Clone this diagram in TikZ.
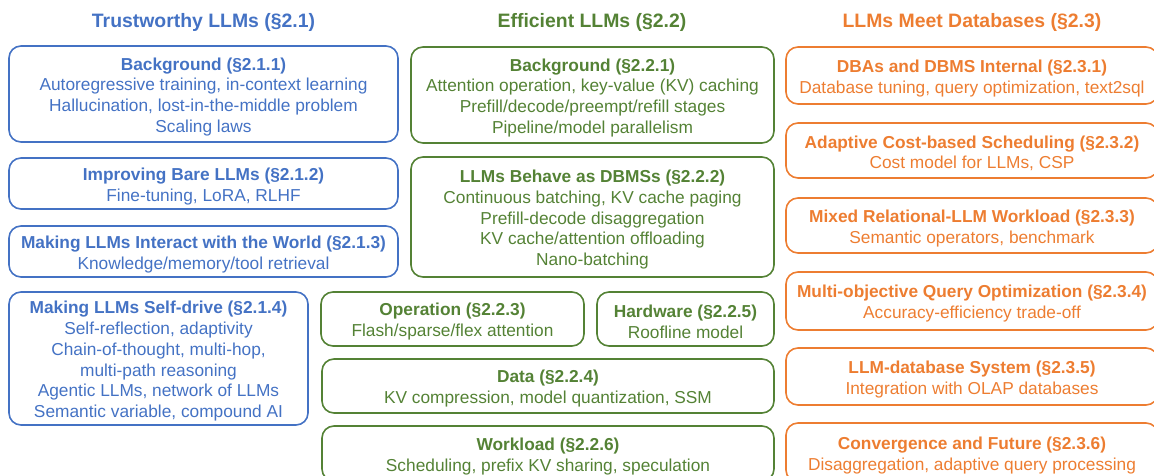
\documentclass[tikz,border=0pt]{standalone}
\usepackage{fontspec}
\setmainfont{Liberation Sans}
\definecolor{TrustClr}{HTML}{4472C4}
\definecolor{EffClr}{HTML}{548235}
\definecolor{DbClr}{HTML}{ED7D31}
\newcommand\boxtitle[1]{\rule{0pt}{18pt}\textbf{#1}}

\begin{document}
\begin{tikzpicture}[x=1pt,y=-1pt,
  box/.style={draw,line width=1.6pt,rounded corners=12pt,align=center,inner sep=0pt,
    font=\fontsize{17.3}{20.7}\selectfont},
  trust/.style={box,color=TrustClr},
  eff/.style={box,color=EffClr},
  db/.style={box,color=DbClr},
  head/.style={font=\fontsize{19.4}{23}\selectfont\bfseries}]
\useasboundingbox (0,0) rectangle (1154,476);

\node[head,color=TrustClr] (T) at (203.5,22) {Trustworthy LLMs (§2.1)};
\node[head,color=EffClr] (E) at (592,22) {Efficient LLMs (§2.2)};
\node[head,color=DbClr] (D) at (972,22) {LLMs Meet Databases (§2.3)};

\node[trust,minimum width=389,minimum height=96] (T1) at (203.5,94)
  {\boxtitle{Background (§2.1.1)}\\Autoregressive training, in-context learning\\
   Hallucination, lost-in-the-middle problem\\Scaling laws};
\node[trust,minimum width=389,minimum height=51] (T2) at (203.5,183.5)
  {\boxtitle{Improving Bare LLMs (§2.1.2)}\\Fine-tuning, LoRA, RLHF};
\node[trust,minimum width=389,minimum height=51] (T3) at (203.5,251.5)
  {\boxtitle{Making LLMs Interact with the World (§2.1.3)}\\Knowledge/memory/tool retrieval};
\node[trust,minimum width=299,minimum height=133] (T4) at (158.5,358.5)
  {\boxtitle{Making LLMs Self-drive (§2.1.4)}\\Self-reflection, adaptivity\\
   Chain-of-thought, multi-hop,\\multi-path reasoning\\
   Agentic LLMs, network of LLMs\\Semantic variable, compound AI};

\node[eff,minimum width=363,minimum height=96] (E1) at (592.5,95)
  {\boxtitle{Background (§2.2.1)}\\Attention operation, key-value (KV) caching\\
   Prefill/decode/preempt/refill stages\\Pipeline/model parallelism};
\node[eff,minimum width=363,minimum height=120] (E2) at (592.5,217)
  {\boxtitle{LLMs Behave as DBMSs (§2.2.2)}\\Continuous batching, KV cache paging\\
   Prefill-decode disaggregation\\KV cache/attention offloading\\Nano-batching};
\node[eff,minimum width=263,minimum height=54] (E3) at (452.5,319)
  {\boxtitle{Operation (§2.2.3)}\\Flash/sparse/flex attention};
\node[eff,minimum width=177,minimum height=54] (E5) at (685.5,319)
  {\boxtitle{Hardware (§2.2.5)}\\Roofline model};
\node[eff,minimum width=452,minimum height=54] (E4) at (548,386)
  {\boxtitle{Data (§2.2.4)}\\KV compression, model quantization, SSM};
\node[eff,minimum width=452,minimum height=55] (E6) at (548,453.5)
  {\boxtitle{Workload (§2.2.6)}\\Scheduling, prefix KV sharing, speculation};

\node[db,minimum width=372,minimum height=57] (D1) at (972,75.5)
  {\boxtitle{DBAs and DBMS Internal (§2.3.1)}\\Database tuning, query optimization, text2sql};
\node[db,minimum width=372,minimum height=55] (D2) at (972,150.5)
  {\boxtitle{Adaptive Cost-based Scheduling (§2.3.2)}\\Cost model for LLMs, CSP};
\node[db,minimum width=372,minimum height=55] (D3) at (972,225.5)
  {\boxtitle{Mixed Relational-LLM Workload (§2.3.3)}\\Semantic operators, benchmark};
\node[db,minimum width=372,minimum height=58] (D4) at (972,301)
  {\boxtitle{Multi-objective Query Optimization (§2.3.4)}\\Accuracy-efficiency trade-off};
\node[db,minimum width=372,minimum height=57] (D5) at (972,376.5)
  {\boxtitle{LLM-database System (§2.3.5)}\\Integration with OLAP databases};
\node[db,minimum width=372,minimum height=59] (D6) at (972,452.5)
  {\boxtitle{Convergence and Future (§2.3.6)}\\Disaggregation, adaptive query processing};

\end{tikzpicture}
\end{document}
